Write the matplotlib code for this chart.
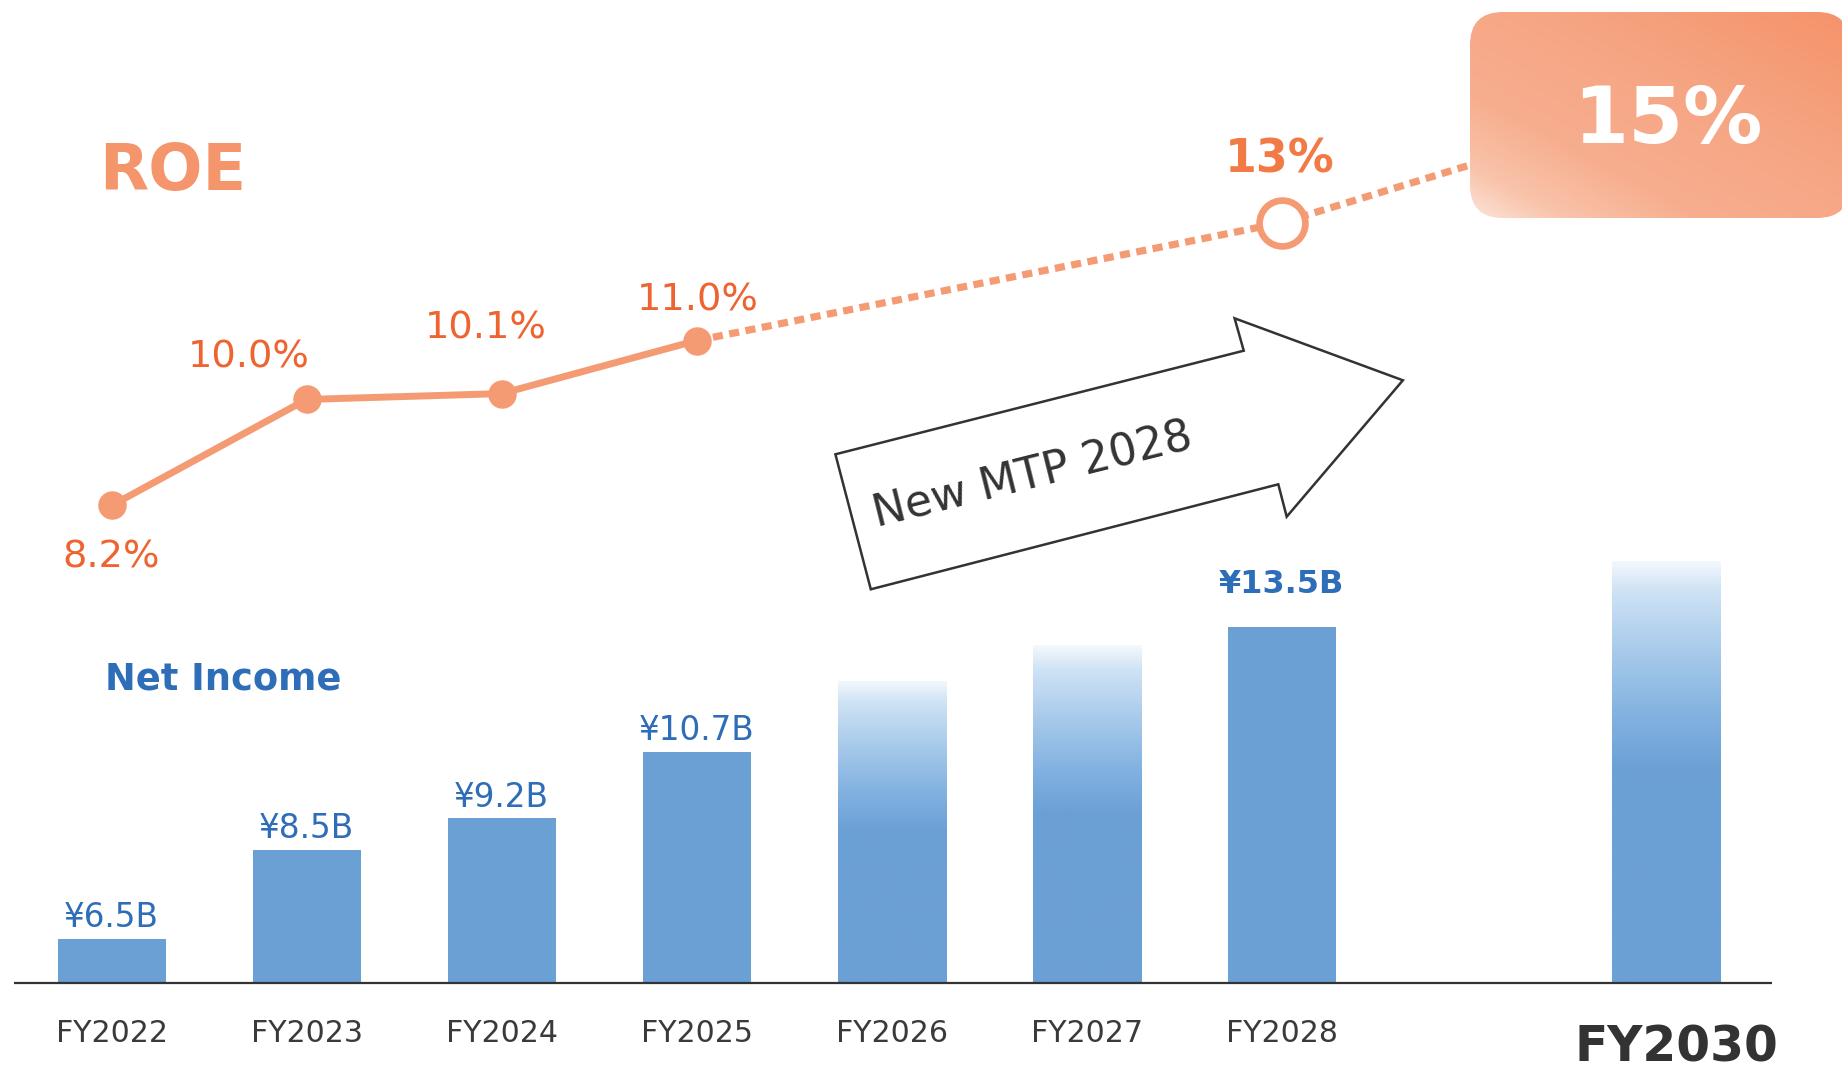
import numpy as np
import matplotlib
matplotlib.use("Agg")
import matplotlib.pyplot as plt
from matplotlib.patches import FancyBboxPatch, Polygon
from matplotlib.colors import to_rgb

# ---------------- data ----------------
years = ["FY2022", "FY2023", "FY2024", "FY2025", "FY2026", "FY2027", "FY2028", "FY2030"]
net_income = [6.5, 8.5, 9.2, 10.7, 12.3, 13.1, 13.5, 15.0]          # ¥ billion
income_labels = ["¥6.5B", "¥8.5B", "¥9.2B", "¥10.7B", "", "", "¥13.5B", ""]
roe_actual_years = ["FY2022", "FY2023", "FY2024", "FY2025"]
roe_actual = [8.2, 10.0, 10.1, 11.0]
roe_actual_labels = ["8.2%", "10.0%", "10.1%", "11.0%"]
roe_plan_years = ["FY2025", "FY2028", "FY2030"]
roe_plan = [11.0, 13.0, 15.0]

# ---------------- layout / style ----------------
W, H = 1842, 1073
x_pos = [0, 1, 2, 3, 4, 5, 6, 7.97]
xidx = {y: p for y, p in zip(years, x_pos)}
bar_fade = [False, False, False, False, True, True, False, True]
bar_width = 0.554
base = 5.5

bar_color = "#6BA0D5"
blue_text = "#2E6DB7"
line_color = "#F59B74"
roe_label_color = "#EE6430"
roe13_color = "#F27A45"
roe_title_color = "#F4956B"
dark = "#333333"

plt.rcParams["font.family"] = ["DejaVu Sans"]

fig = plt.figure(figsize=(W / 100, H / 100), dpi=100)
XL = (-0.5723, 8.8738)
YL_BAR = (3.4762, 27.6049)
YL_ROE = (-1.435, 16.782)

# ---------- bars axes ----------
ax = fig.add_axes([0, 0, 1, 1])
ax.set_zorder(1)
ax.patch.set_visible(False)
ax.axis("off")

bars = ax.bar(x_pos, [v - base for v in net_income], bottom=base, width=bar_width,
              color=bar_color, linewidth=0, zorder=2)

def hex_stops(stops, cols, t):
    rgb = np.array([to_rgb(c) for c in cols])
    return np.stack([np.interp(t, stops, rgb[:, k]) for k in range(3)], axis=-1)

n = 500
tt = np.linspace(0, 1, n)
grad = hex_stops([0, 0.5, 0.62, 0.79, 0.93, 1.0],
                 ["#6BA0D5", "#6BA0D5", "#7FB0E0", "#A9CBEB", "#CFE3F5", "#F5F9FD"], tt)
grad = grad[:, None, :]
for b, fade in zip(bars, bar_fade):
    if not fade:
        continue
    x0 = b.get_x()
    x1 = x0 + b.get_width()
    y0 = b.get_y()
    y1 = y0 + b.get_height()
    im = ax.imshow(grad, extent=(x0, x1, y0, y1), origin="lower", aspect="auto",
                   interpolation="bilinear", zorder=3)
    im.set_clip_path(b)

ax.set_xlim(*XL)
ax.set_ylim(*YL_BAR)
ax.hlines(base, -0.5005, 8.515, color=dark, lw=1.6, zorder=4)

for x, v, lab in zip(x_pos, net_income, income_labels):
    if not lab:
        continue
    bold = lab == "¥13.5B"
    ax.annotate(lab, (x, v), xytext=(0, 34 if bold else 11.5), textcoords="offset pixels",
                ha="center", va="baseline", fontsize=23 if bold else 23.5,
                fontweight="bold" if bold else "normal", color=blue_text, zorder=5)

for x, yr in zip(x_pos, years):
    if yr == "FY2030":
        ax.annotate(yr, (x, 0), xycoords=("data", "axes fraction"), xytext=(11, 11.3),
                    textcoords="offset pixels", ha="center", va="baseline",
                    fontsize=35, fontweight="bold", color=dark)
    else:
        ax.annotate(yr, (x, 0), xycoords=("data", "axes fraction"), xytext=(0, 30.7),
                    textcoords="offset pixels", ha="center", va="baseline",
                    fontsize=21.6, color="#3A3A3A")

# ---------- ROE axes ----------
ax2 = fig.add_axes([0, 0, 1, 1])
ax2.set_zorder(2)
ax2.patch.set_visible(False)
ax2.axis("off")
ax2.set_xlim(*XL)
ax2.set_ylim(*YL_ROE)

xa = [xidx[y] for y in roe_actual_years]
xp = [xidx[y] for y in roe_plan_years]
ax2.plot(xp, roe_plan, color=line_color, lw=5.2, ls=(0, (1.4, 0.9)),
         dash_capstyle="butt", zorder=2)
ax2.plot(xa, roe_actual, color=line_color, lw=5, marker="o", ms=19.5,
         solid_capstyle="round", zorder=3)
ax2.plot(xp[1], roe_plan[1], marker="o", ms=33, mfc="white", mec=line_color,
         mew=4.8, zorder=4)

roe_offsets = [(0, -62.5), (-58, 32), (-15.6, 54.6), (1.4, 29.6)]
for x, v, lab, off in zip(xa, roe_actual, roe_actual_labels, roe_offsets):
    ax2.annotate(lab, (x, v), xytext=off, textcoords="offset pixels", ha="center",
                 va="baseline", fontsize=27.6, color=roe_label_color, zorder=5)
ax2.annotate(f"{roe_plan[1]:.0f}%", (xp[1], roe_plan[1]), xytext=(-2, 50),
             textcoords="offset pixels", ha="center", va="baseline", fontsize=33,
             fontweight="bold", color=roe13_color, zorder=5)

# ---------- overlay (pixel coordinates) ----------
ov = fig.add_axes([0, 0, 1, 1])
ov.set_zorder(3)
ov.patch.set_visible(False)
ov.axis("off")
ov.set_xlim(0, W)
ov.set_ylim(H, 0)

ov.text(99, 190, "ROE", fontsize=46, fontweight="bold", color=roe_title_color,
        ha="left", va="baseline")
ov.text(105, 690, "Net Income", fontsize=26.5, fontweight="bold", color=blue_text,
        ha="left", va="baseline")

# target box
bx0, by0, bw, bh = 1470, 12, 380, 206
box = FancyBboxPatch((bx0, by0), bw, bh, boxstyle="round,pad=0,rounding_size=33",
                     fc="none", ec="none", zorder=5)
ov.add_patch(box)
gx = np.linspace(bx0, bx0 + bw, 300)
gy = np.linspace(by0, by0 + bh, 160)
GX, GY = np.meshgrid(gx, gy)
T = 0.5 * (GX - bx0) / bw + 0.5 * ((by0 + bh) - GY) / bh
boximg = hex_stops([0, 0.12, 0.3, 0.6, 1.0],
                   ["#FCE4D9", "#F9C4AB", "#F7AE8F", "#F6A583", "#F5936A"], T)
bim = ov.imshow(boximg, extent=(bx0, bx0 + bw, by0 + bh, by0), origin="upper",
                aspect="auto", interpolation="bilinear", zorder=5)
bim.set_clip_path(box)
ov.text(1668, 143.3, f"{roe_plan[-1]:.0f}%", fontsize=57, fontweight="bold",
        color="white", ha="center", va="baseline", zorder=6)

# MTP arrow
arrow_pts = [(835.4, 454.3), (1243.75, 350.7), (1234.6, 318.3), (1402.9, 380.3),
             (1286.7, 516.7), (1278.3, 484.3), (870.8, 589.3)]
ov.add_patch(Polygon(arrow_pts, closed=True, fc="white", ec=dark, lw=1.8,
                     joinstyle="miter", zorder=4))
ov.text(877, 528, "New MTP 2028", fontsize=31.7, color=dark, rotation=14,
        rotation_mode="anchor", ha="left", va="baseline", zorder=5)

ov.set_xlim(0, W)
ov.set_ylim(H, 0)

fig.savefig("out.png", dpi=100, facecolor="white")
